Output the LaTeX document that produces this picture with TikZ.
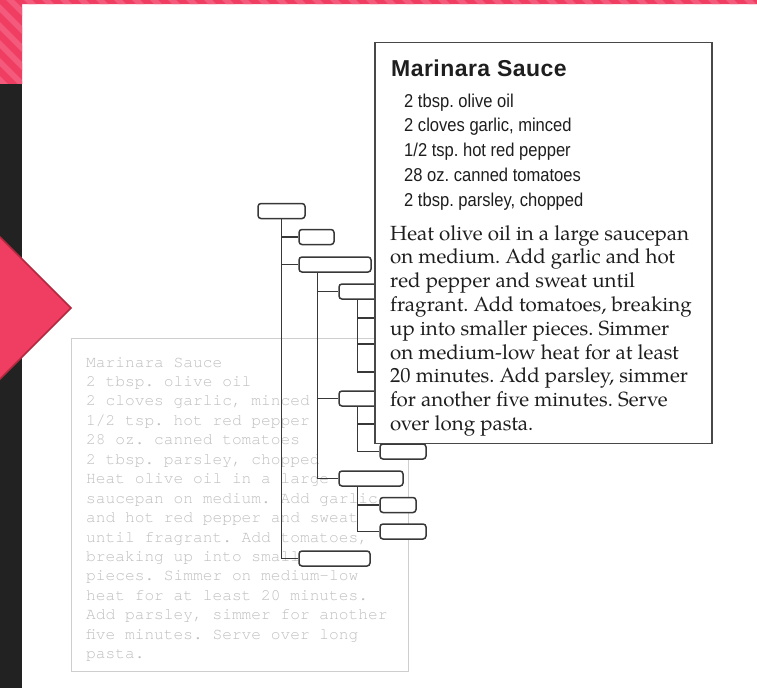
\documentclass[tikz,border=0pt]{standalone}
\usepackage{fontspec}
\setmainfont{Liberation Sans}
\newfontfamily\headsans[LetterSpace=2]{Liberation Sans}
\newfontfamily\ingrsans[FakeStretch=0.89]{Liberation Sans}
\newfontfamily\bodyserif{TeX Gyre Pagella}
\newfontfamily\codemono{TeX Gyre Cursor}
\usetikzlibrary{calc}

\definecolor{pinkband}{HTML}{F03E63}
\definecolor{pinkstripe}{HTML}{F45A7C}
\definecolor{pinkedge}{HTML}{B3283F}
\definecolor{darkband}{HTML}{222222}
\definecolor{treeline}{HTML}{383838}
\definecolor{cardline}{HTML}{484848}
\definecolor{ghostline}{HTML}{CECECE}
\definecolor{ghosttext}{HTML}{BFBFBF}
\definecolor{inktext}{HTML}{1E1E1E}

\pgfdeclarelayer{underlay}
\pgfdeclarelayer{links}
\pgfsetlayers{underlay,links,main}

\tikzset{
  tbox/.style={draw=treeline, fill=white, line width=1.5pt, rounded corners=3pt,
               inner sep=0pt, minimum height=15pt},
  link/.style={draw=treeline, line width=1.4pt},
  card/.style={draw=cardline, fill=white, line width=1.4pt, inner sep=0pt},
  ghostcard/.style={draw=ghostline, line width=1pt, inner sep=0pt},
  txt/.style={anchor=base west, inner sep=0pt},
}

\begin{document}
\begin{tikzpicture}[x=1pt, y=-1pt]
\frenchspacing
\useasboundingbox (0,0) rectangle (757,688);
\clip (0,0) rectangle (757,688);

\begin{pgfonlayer}{underlay}
\fill[white] (0,0) rectangle (757,688);

% striped pink frame at the top and upper left
\begin{scope}
  \clip (0,0) rectangle (757,4) (0,0) rectangle (22,84);
  \fill[pinkband] (0,0) rectangle (757,84);
  \foreach \k in {-120,-102,...,780}
    \fill[pinkstripe] (\k,0) -- ++(8,0) -- ++(90,90) -- ++(-8,0) -- cycle;
\end{scope}

% dark side band and the pink marker
\fill[darkband] (0,84) rectangle (22,688);
\filldraw[fill=pinkband, draw=pinkedge, line width=1.5pt]
  (71,308) -- (0,237) -- (-71,308) -- (0,379) -- cycle;

% plain-text version of the recipe
\node[ghostcard, minimum width=337pt, minimum height=333pt] (plain) at (239.5,504.5) {};
\foreach \ln [count=\i] in {
  {Marinara Sauce},
  {2 tbsp. olive oil},
  {2 cloves garlic, minced},
  {1/2 tsp. hot red pepper},
  {28 oz. canned tomatoes},
  {2 tbsp. parsley, chopped},
  {Heat olive oil in a large},
  {saucepan on medium. Add garlic},
  {and hot red pepper and sweat},
  {until fragrant. Add tomatoes,},
  {breaking up into small},
  {pieces. Simmer on medium-low},
  {heat for at least 20 minutes.},
  {Add parsley, simmer for another},
  {five minutes. Serve over long},
  {pasta.}}
  \node[txt, text=ghosttext, font=\codemono\fontsize{16.2}{19}\selectfont]
    (plain\i) at (86,{367+19.45*(\i-1)}) {\ln};
\end{pgfonlayer}

% document tree
\node[tbox, minimum width=47pt] (n1)  at (281.5,211) {};
\node[tbox, minimum width=35pt] (n2)  at (316.5,237) {};
\node[tbox, minimum width=72pt] (n3)  at (335,264.5) {};
\node[tbox, minimum width=71pt] (n4)  at (374.5,291.5) {};
\node[tbox, minimum width=71pt] (n5)  at (374.5,398.5) {};
\node[tbox, minimum width=46pt] (n6)  at (403,451.5) {};
\node[tbox, minimum width=64pt] (n7)  at (371,478.5) {};
\node[tbox, minimum width=36pt] (n8)  at (398,505) {};
\node[tbox, minimum width=46pt] (n9)  at (403,531.5) {};
\node[tbox, minimum width=71pt] (n10) at (334.5,558.5) {};
\coordinate (n4a) at (380,318);
\coordinate (n4b) at (380,344);
\coordinate (n4c) at (380,372);
\coordinate (n5a) at (380,424);

\begin{pgfonlayer}{links}
\foreach \c in {n2,n3,n10}
  \draw[link] ([xshift=24pt]n1.south west) |- (\c.west);
\foreach \c in {n4,n5,n7}
  \draw[link] ([xshift=19pt]n3.south west) |- (\c.west);
\foreach \c in {n4a,n4b,n4c}
  \draw[link] ([xshift=19pt]n4.south west) |- (\c);
\draw[link] ([xshift=19pt]n5.south west) |- (n5a);
\draw[link] ([xshift=19pt]n5.south west) |- (n6.west);
\foreach \c in {n8,n9}
  \draw[link] ([xshift=19pt]n7.south west) |- (\c.west);
\end{pgfonlayer}

% formatted recipe card
\node[card, minimum width=337pt, minimum height=401pt] (card) at (543.5,243) {};
\node[txt, text=inktext, font=\headsans\bfseries\fontsize{23}{27}\selectfont] (title) at (391,76) {Marinara Sauce};
\foreach \ln [count=\i] in {
  {2 tbsp. olive oil},
  {2 cloves garlic, minced},
  {1/2 tsp. hot red pepper},
  {28 oz. canned tomatoes},
  {2 tbsp. parsley, chopped}}
  \node[txt, text=inktext, font=\ingrsans\fontsize{18.6}{22}\selectfont]
    (ingr\i) at (404,{107+24.75*(\i-1)}) {\ln};
\foreach \ln [count=\i] in {
  {Heat olive oil in a large saucepan},
  {on medium. Add garlic and hot},
  {red pepper and sweat until},
  {fragrant. Add tomatoes, breaking},
  {up into smaller pieces. Simmer},
  {on medium-low heat for at least},
  {20 minutes. Add parsley, simmer},
  {for another five minutes. Serve},
  {over long pasta.}}
  \node[txt, text=inktext, font=\bodyserif\fontsize{20.5}{24}\selectfont]
    (step\i) at (390,{240+23.8*(\i-1)}) {\ln};
\end{tikzpicture}
\end{document}
